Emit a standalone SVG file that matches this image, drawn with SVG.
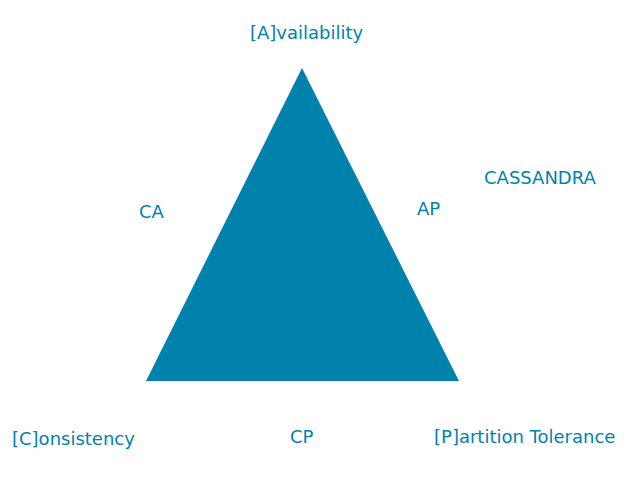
<svg xmlns="http://www.w3.org/2000/svg" width="640" height="480" viewBox="0 0 640 480">
<style>
text{font-family:"DejaVu Sans",sans-serif;font-size:18px;fill:#0082AD}
</style>
<rect width="640" height="480" fill="#fff"/>
<g id="triangle"><polygon points="302,68 146,381 459,381" fill="#0082AD"/></g>
<g id="connectors"></g>
<g id="availability"><text x="250" y="39">[A]vailability</text></g>
<g id="ca"><text x="139" y="218">CA</text></g>
<g id="ap"><text x="417" y="215">AP</text></g>
<g id="cassandra"><text x="484" y="184">CASSANDRA</text></g>
<g id="consistency"><text x="12" y="445">[C]onsistency</text></g>
<g id="cp"><text x="290" y="443">CP</text></g>
<g id="partition"><text x="434" y="443">[P]artition Tolerance</text></g>
</svg>
